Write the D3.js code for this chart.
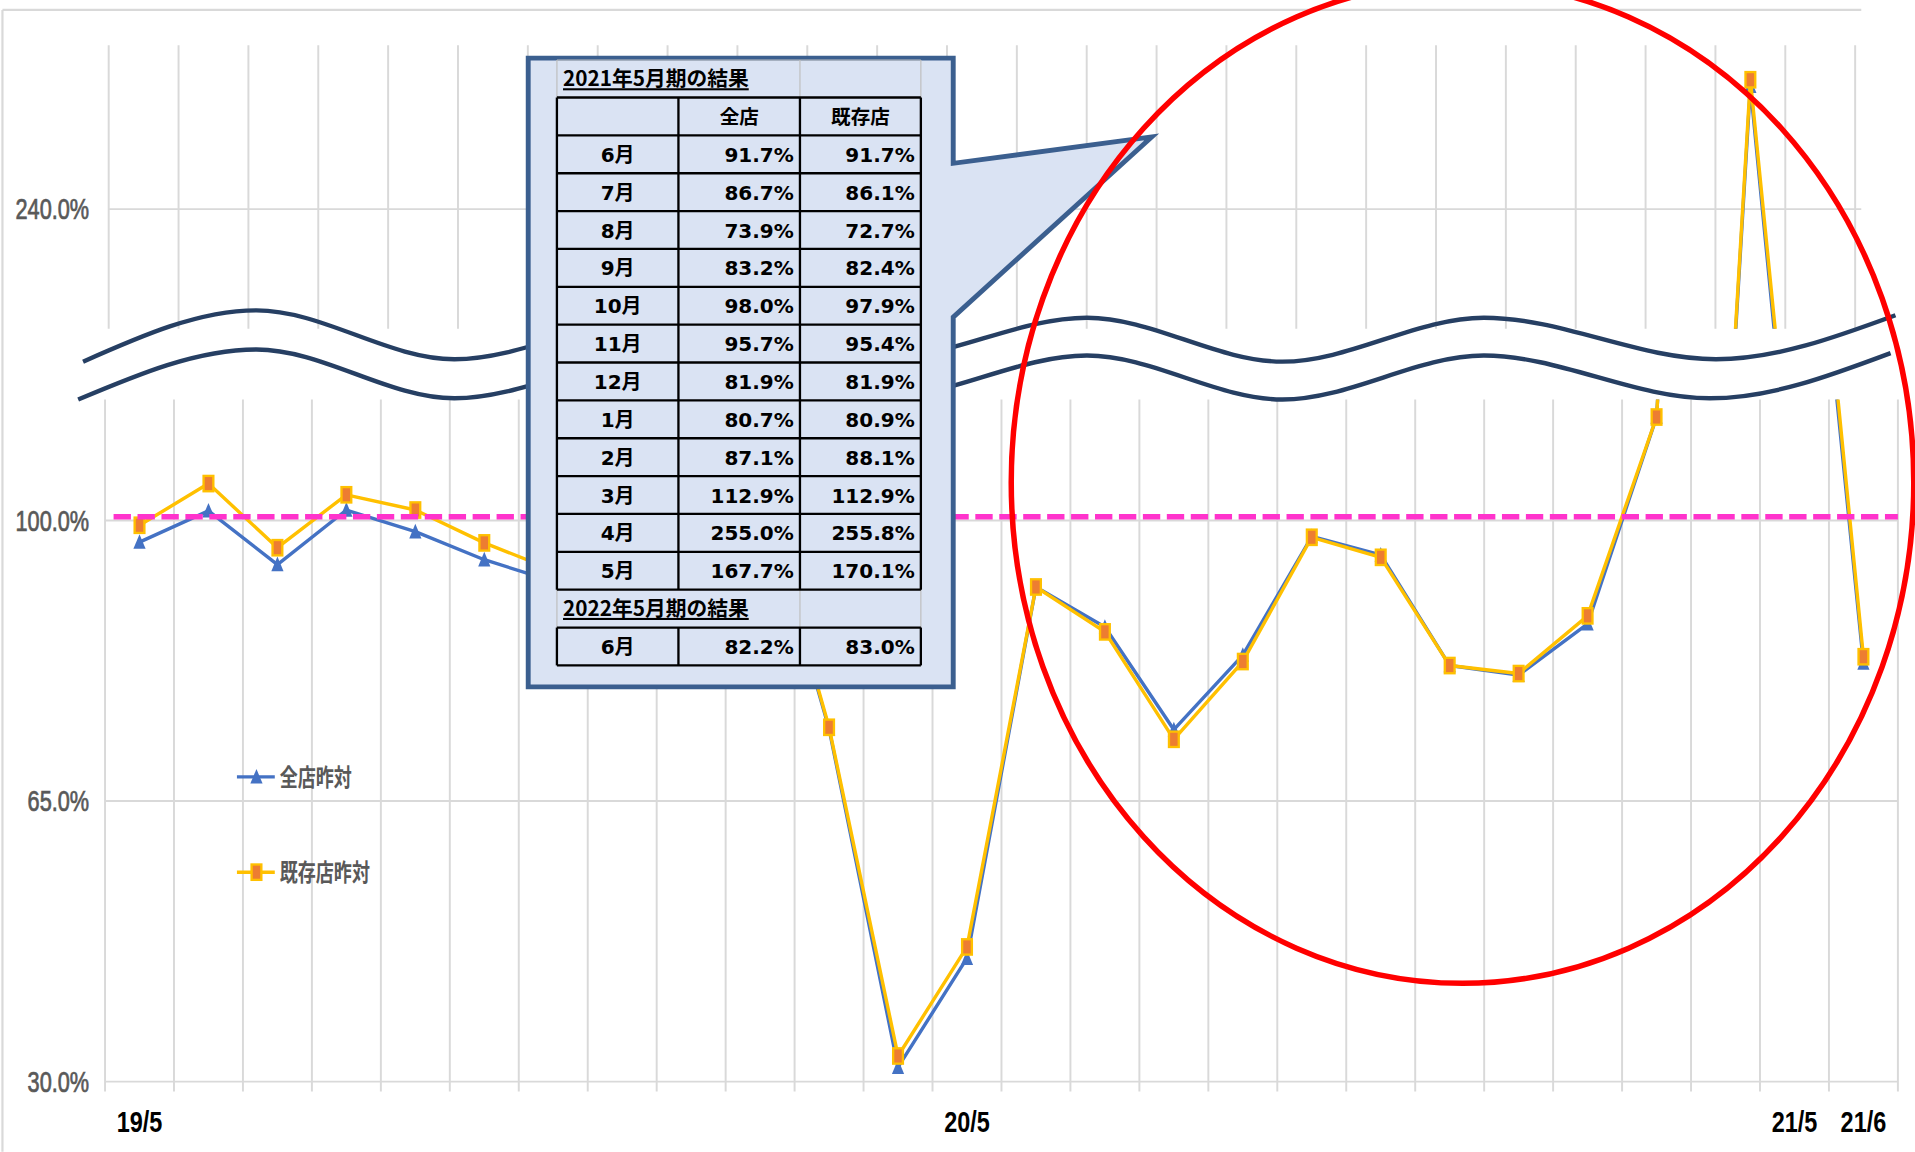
<!DOCTYPE html>
<html><head><meta charset="utf-8">
<script src="https://cdn.jsdelivr.net/npm/d3@7"></script>
<style>html,body{margin:0;padding:0;background:#fff;overflow:hidden}svg{display:block}</style>
</head><body>
<svg id="c"></svg>
<script>
// ---------------- data ----------------
const months = ["19/5","19/6","19/7","19/8","19/9","19/10","19/11","19/12","20/1","20/2","20/3","20/4","20/5",
                "20/6","20/7","20/8","20/9","20/10","20/11","20/12","21/1","21/2","21/3","21/4","21/5","21/6"];
const allStores      = [97.3,101.2,94.5,101.3,98.6,95.1,92.4,93.6,92.1,104.0,74.0,31.8,45.4,
                        91.7,86.7,73.9,83.2,98.0,95.7,81.9,80.7,87.1,112.9,255.0,167.7,82.2];
const existingStores = [99.4,104.6,96.6,103.2,101.3,97.2,93.8,95.5,94.0,104.7,74.2,33.2,46.8,
                        91.7,86.1,72.7,82.4,97.9,95.4,81.9,80.9,88.1,112.9,255.8,170.1,83.0];
const seriesNames = ["全店昨対","既存店昨対"];
const xTickLabels = ["19/5","20/5","21/5","21/6"];
const lowerTicks = [30, 65, 100];
const upperTicks = [240];
const tableTitles = ["2021年5月期の結果","2022年5月期の結果"];
const tableHeader = ["", "全店", "既存店"];
const tableMonths = ["6月","7月","8月","9月","10月","11月","12月","1月","2月","3月","4月","5月"];
const tableMonths2 = ["6月"];
const tableStart = 13; // index of 20/6 in months

// ---------------- layout ----------------
const W = 1568, H = 943;
const svg = d3.select("#c").attr("width", 1915).attr("height", 1152).attr("viewBox", `0 0 ${W} ${H}`);
svg.append("rect").attr("width", W).attr("height", H).attr("fill", "#fff");
const defs = svg.append("defs");

const GRID = "#D9D9D9";
const xL = d3.scaleBand().domain(months).range([86, 1554]);
const xU = d3.scaleBand().domain(months).range([89, 89 + 57.2 * months.length]);
const yL = d3.scaleLinear().domain([30, 115.1]).range([885.5, 326.9]);
const yU = d3.scaleLinear().domain([225.4, 260]).range([269, 37]);
const upperRight = 1524;

defs.append("clipPath").attr("id", "clipL").append("rect")
  .attr("x", 0).attr("y", yL.range()[1]).attr("width", W).attr("height", 600);
defs.append("clipPath").attr("id", "clipU").append("rect")
  .attr("x", 0).attr("y", yU.range()[1]).attr("width", upperRight).attr("height", yU.range()[0] - yU.range()[1]);

// borders
const gb = svg.append("g").attr("stroke", GRID).attr("stroke-width", 1.8);
gb.append("line").attr("x1", 2).attr("x2", upperRight).attr("y1", 8).attr("y2", 8);
gb.append("line").attr("x1", 2).attr("x2", 2).attr("y1", 8).attr("y2", H);

// grid upper
const gu = svg.append("g").attr("stroke", GRID).attr("stroke-width", 1.6);
d3.range(months.length + 1).forEach(i => {
  const x = xU.range()[0] + xU.step() * i;
  if (x <= upperRight) gu.append("line").attr("x1", x).attr("x2", x).attr("y1", yU.range()[1]).attr("y2", yU.range()[0]);
});
upperTicks.forEach(t => gu.append("line").attr("x1", xU.range()[0]).attr("x2", upperRight).attr("y1", yU(t)).attr("y2", yU(t)));

// grid lower
const gl = svg.append("g").attr("stroke", GRID).attr("stroke-width", 1.6);
d3.range(months.length + 1).forEach(i => {
  const x = xL.range()[0] + xL.step() * i;
  gl.append("line").attr("x1", x).attr("x2", x).attr("y1", yL.range()[1]).attr("y2", yL(30) + 8);
});
lowerTicks.forEach(t => gl.append("line").attr("x1", xL.range()[0]).attr("x2", xL.range()[1]).attr("y1", yL(t)).attr("y2", yL(t)));

// series
const TRI = "M0,-6.5L5,5.5L-5,5.5Z";
function drawSeries(clipId, x, y) {
  const g = svg.append("g").attr("clip-path", `url(#${clipId})`);
  const cx = (d, i) => x(months[i]) + x.bandwidth() / 2;
  const line = d3.line().x(cx).y(d => y(d));
  g.append("path").datum(allStores).attr("d", line).attr("fill", "none")
    .attr("stroke", "#4472C4").attr("stroke-width", 2.8).attr("stroke-linejoin", "round");
  g.selectAll(".tri").data(allStores).enter().append("path")
    .attr("d", TRI).attr("fill", "#4472C4")
    .attr("transform", (d, i) => `translate(${cx(d, i)},${y(d)})`);
  g.append("path").datum(existingStores).attr("d", line).attr("fill", "none")
    .attr("stroke", "#FFC000").attr("stroke-width", 2.8).attr("stroke-linejoin", "round");
  g.selectAll(".sq").data(existingStores).enter().append("rect")
    .attr("x", (d, i) => cx(d, i) - 4).attr("y", d => y(d) - 6.3).attr("width", 8).attr("height", 12.6)
    .attr("fill", "#ED7D31").attr("stroke", "#FFC000").attr("stroke-width", 1.9);
}
drawSeries("clipL", xL, yL);
drawSeries("clipU", xU, yU);

// 100% dashed reference line
svg.append("line").attr("x1", 93).attr("x2", xL.range()[1]).attr("y1", yL(100) - 3).attr("y2", yL(100) - 3)
  .attr("stroke", "#FF33CC").attr("stroke-width", 4.4).attr("stroke-dasharray", "14.2 5.4");

// axis-break waves
const waveUpper = [[68,296],[210,254],[372,294],[545,258],[720,294],[890,260],[1050,296],[1215,260],[1405,294],[1552,258]];
const waveLower = [[64,327],[210,286],[372,326],[545,290],[720,326],[890,291],[1050,327],[1215,291],[1400,326],[1548,289]];
const wl = d3.line().curve(d3.curveMonotoneX);
[waveUpper, waveLower].forEach(w => svg.append("path").attr("d", wl(w)).attr("fill", "none")
  .attr("stroke", "#263F63").attr("stroke-width", 3.6).attr("stroke-linecap", "butt"));

// callout
const box = {l: 432.5, t: 47.5, r: 780.5, b: 562.3, p1: 133.6, tipX: 943, tipY: 112, p2: 259.5};
svg.append("path")
  .attr("d", `M${box.l},${box.t}L${box.r},${box.t}L${box.r},${box.p1}L${box.tipX},${box.tipY}L${box.r},${box.p2}L${box.r},${box.b}L${box.l},${box.b}Z`)
  .attr("fill", "#DAE3F3").attr("stroke", "#3B5F8F").attr("stroke-width", 4).attr("stroke-linejoin", "miter");

// table
const colX = [456, 555.5, 655, 754];
const rowH = 31;
const title1Top = 49, headTop = 79.7;
const mainBottom = headTop + rowH * (tableMonths.length + 1);
const title2Top = mainBottom, lastTop = mainBottom + rowH, lastBottom = lastTop + rowH;
const tg = svg.append("g");
const faint = tg.append("g").attr("stroke", "#BFBFBF").attr("stroke-width", 1);
faint.append("line").attr("x1", colX[0]).attr("x2", colX[3]).attr("y1", title1Top).attr("y2", title1Top);
[[title1Top, headTop], [title2Top, lastTop]].forEach(([a, b]) =>
  [colX[0], colX[2], colX[3]].forEach(x => faint.append("line").attr("x1", x).attr("x2", x).attr("y1", a).attr("y2", b)));
const bl = tg.append("g").attr("stroke", "#000").attr("stroke-width", 1.9);
d3.range(tableMonths.length + 2).forEach(i => {
  const y = headTop + rowH * i;
  bl.append("line").attr("x1", colX[0]).attr("x2", colX[3]).attr("y1", y).attr("y2", y);
});
[lastTop, lastBottom].forEach(y => bl.append("line").attr("x1", colX[0]).attr("x2", colX[3]).attr("y1", y).attr("y2", y));
colX.forEach(x => {
  bl.append("line").attr("x1", x).attr("x2", x).attr("y1", headTop).attr("y2", mainBottom);
  bl.append("line").attr("x1", x).attr("x2", x).attr("y1", lastTop).attr("y2", lastBottom);
});
const FT = "'DejaVu Sans','Noto Sans CJK JP',sans-serif";
const FJ = "'Noto Sans CJK JP','DejaVu Sans',sans-serif";
[[tableTitles[0], title1Top], [tableTitles[1], title2Top]].forEach(([t, top]) =>
  tg.append("text").attr("x", 461).attr("y", top + 21.5).text(t)
    .attr("font-family", FJ).attr("font-weight", 700).attr("font-size", 17)
    .attr("text-decoration", "underline").attr("fill", "#000"));
tableHeader.forEach((h, j) => {
  if (!h) return;
  tg.append("text").attr("x", (colX[j] + colX[j + 1]) / 2).attr("y", headTop + rowH / 2 + 6)
    .attr("text-anchor", "middle").attr("font-family", FJ).attr("font-weight", 700).attr("font-size", 16).text(h);
});
const fmt = v => v.toFixed(1) + "%";
function tableRow(label, idx, top) {
  const base = top + rowH / 2 + 6.2;
  const t = (x, anchor, s) => tg.append("text").attr("x", x).attr("y", base).attr("text-anchor", anchor)
    .attr("font-family", FT).attr("font-weight", 700).attr("font-size", 16.4).text(s);
  t((colX[0] + colX[1]) / 2, "middle", label);
  t(colX[2] - 5, "end", fmt(allStores[idx]));
  t(colX[3] - 5, "end", fmt(existingStores[idx]));
}
tableMonths.forEach((m, i) => tableRow(m, tableStart + i, headTop + rowH * (i + 1)));
tableMonths2.forEach((m, i) => tableRow(m, tableStart + tableMonths.length + i, lastTop + rowH * i));

// y labels
const FY = "'Liberation Sans',Arial,sans-serif";
function yLabel(v, y) {
  svg.append("text").attr("transform", `translate(73,${y + 8.4}) scale(0.76,1)`)
    .attr("text-anchor", "end").attr("font-family", FY).attr("font-size", 23.4).attr("fill", "#595959")
    .attr("stroke", "#595959").attr("stroke-width", 0.6)
    .text(v.toFixed(1) + "%");
}
upperTicks.forEach(t => yLabel(t, yU(t)));
lowerTicks.forEach(t => yLabel(t, yL(t)));

// x labels
xTickLabels.forEach(m => {
  svg.append("text").attr("transform", `translate(${xL(m) + xL.bandwidth() / 2},927) scale(0.8,1)`)
    .attr("text-anchor", "middle").attr("font-family", FY).attr("font-weight", 700).attr("font-size", 24)
    .attr("fill", "#000").text(m);
});

// legend
const lg = svg.append("g");
[[seriesNames[0], 636, "blue"], [seriesNames[1], 714, "orange"]].forEach(([name, y, kind]) => {
  lg.append("line").attr("x1", 194).attr("x2", 225).attr("y1", y).attr("y2", y)
    .attr("stroke", kind === "blue" ? "#4472C4" : "#FFC000").attr("stroke-width", 2.8);
  if (kind === "blue") lg.append("path").attr("d", TRI).attr("fill", "#4472C4").attr("transform", `translate(210,${y})`);
  else lg.append("rect").attr("x", 210 - 4).attr("y", y - 6.3).attr("width", 8).attr("height", 12.6)
    .attr("fill", "#ED7D31").attr("stroke", "#FFC000").attr("stroke-width", 1.9);
  lg.append("text").attr("transform", `translate(229,${y + 7.5}) scale(0.74,1)`)
    .attr("font-family", FJ).attr("font-size", 20).attr("font-weight", 700).attr("fill", "#595959").text(name);
});

// red highlight ellipse
svg.append("ellipse").attr("cx", 1197.5).attr("cy", 395).attr("rx", 369.5).attr("ry", 410)
  .attr("fill", "none").attr("stroke", "#FF0000").attr("stroke-width", 4.5);
</script>
</body></html>
